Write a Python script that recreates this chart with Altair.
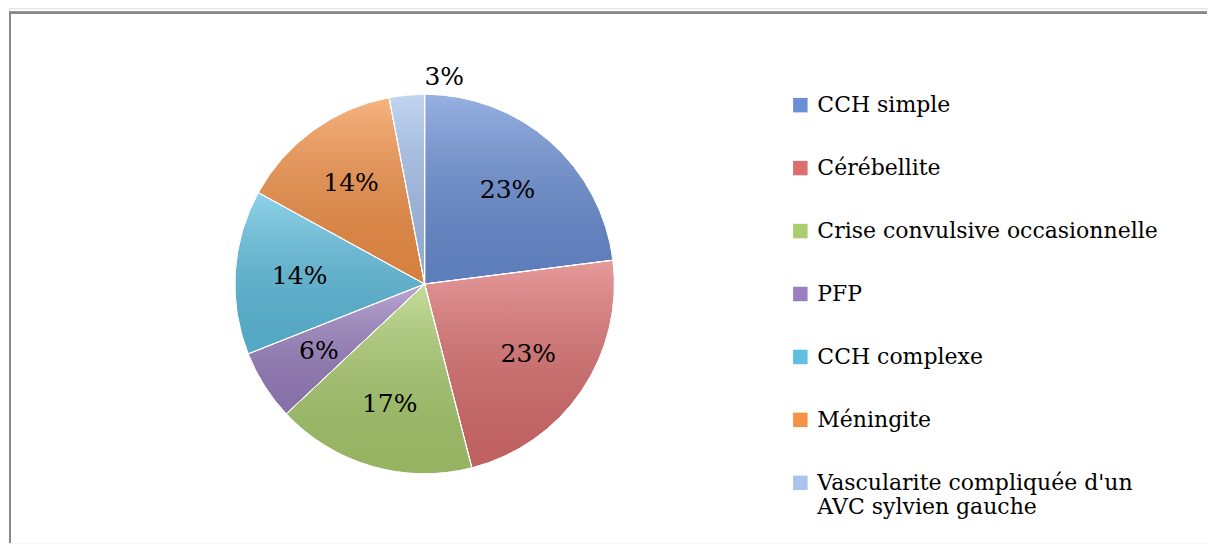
import altair as alt
import pandas as pd

categories = [
    "CCH simple",
    "Cérébellite",
    "Crise convulsive occasionnelle",
    "PFP",
    "CCH complexe",
    "Méningite",
    "Vascularite compliquée d'un AVC sylvien gauche",
]
values = [23, 23, 17, 6, 14, 14, 3]
labels = ["23%", "23%", "17%", "6%", "14%", "14%", "3%"]
colors = ["#6A8FD6", "#DC6E6E", "#AACD6E", "#9A80C0", "#5EBFE0", "#F59247", "#A7C3EE"]

df = pd.DataFrame({"cat": categories, "value": values, "label": labels,
                   "idx": list(range(len(categories)))})

FONT = "DejaVu Serif"
CX, CY, R = 416, 276, 190

base = alt.Chart(df).encode(
    theta=alt.Theta("value:Q", stack=True),
    order=alt.Order("idx:Q", sort="ascending"),
)

pie = base.mark_arc(stroke="white", strokeWidth=1, radius=R).encode(
    x=alt.value(CX), y=alt.value(CY),
    color=alt.Color(
        "cat:N",
        scale=alt.Scale(domain=categories, range=colors),
        sort=categories,
        legend=alt.Legend(
            title=None,
            orient="none",
            legendX=781,
            legendY=86,
            symbolType="square",
            symbolSize=210,
            symbolStrokeWidth=0,
            labelFont=FONT,
            labelFontSize=22,
            labelColor="#000000",
            labelLimit=500,
            labelOffset=6,
            rowPadding=41,
            padding=0,
            labelExpr="indexof(datum.label, ' AVC') > 0 ? [substring(datum.label, 0, indexof(datum.label, ' AVC')), substring(datum.label, indexof(datum.label, ' AVC') + 1)] : datum.label",
        ),
    ),
)

shade = base.mark_arc(
    radius=R,
    fill=alt.Gradient(
        gradient="linear", x1=0, y1=0, x2=0, y2=1,
        stops=[alt.GradientStop(offset=0, color="rgba(255,255,255,0.30)"),
               alt.GradientStop(offset=1, color="rgba(0,0,0,0.12)")],
    ),
    stroke="white", strokeWidth=1,
).encode(x=alt.value(CX), y=alt.value(CY))

inner_text = base.transform_filter("datum.value >= 5").mark_text(
    radius=R * 0.66, font=FONT, fontSize=25, color="#000000"
).encode(x=alt.value(CX), y=alt.value(CY), text="label:N")

outer_text = base.transform_filter("datum.value < 5").mark_text(
    radius=R + 18, font=FONT, fontSize=25, color="#000000"
).encode(x=alt.value(CX), y=alt.value(CY), text="label:N")

top_border = alt.Chart(df).mark_rule(color="#898989", strokeWidth=2).encode(
    x=alt.value(0), x2=alt.value(1199), y=alt.value(4.5)
)
left_border = alt.Chart(df).mark_rule(color="#898989", strokeWidth=2).encode(
    x=alt.value(1), y=alt.value(4.5), y2=alt.value(535)
)

chart = alt.layer(pie, shade, inner_text, outer_text, top_border, left_border).properties(
    width=1200, height=536, padding=0
).configure_view(strokeWidth=0, stroke="transparent").configure(background="white")

chart.save("out.html", embed_options={"renderer": "svg", "actions": False})
